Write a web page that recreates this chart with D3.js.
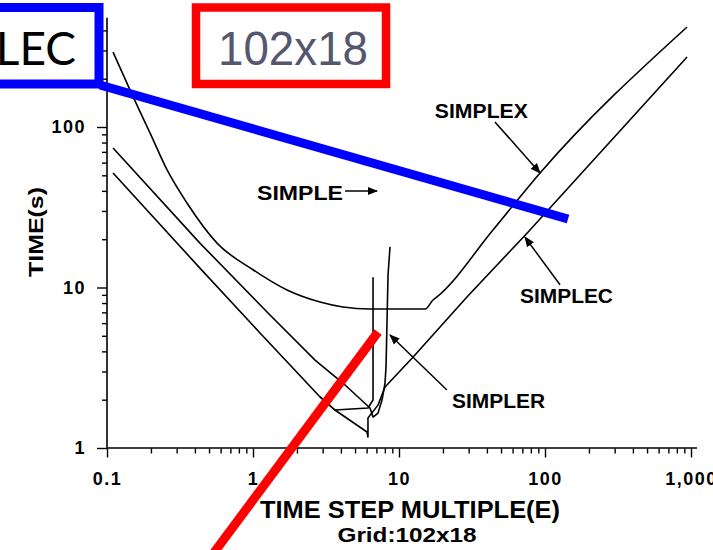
<!DOCTYPE html>
<html lang="en">
<head>
    <meta charset="UTF-8">
    <script src="https://d3js.org/d3.v7.min.js"></script>
    <style>
        body {
            margin: 0;
            background: #ffffff;
        }

        .curve {
            fill: none;
            stroke: #000;
            stroke-width: 1.6px;
            stroke-linejoin: round;
        }

        .axis text {
            font-family: "Liberation Sans", Arial, sans-serif;
            font-weight: bold;
            font-size: 18px;
            letter-spacing: 1.5px;
            fill: #000;
        }

        .axis line {
            stroke: #000;
            stroke-width: 1.4px;
        }

        .label {
            font-family: "Liberation Sans", Arial, sans-serif;
            font-weight: bold;
            fill: #000;
        }
    </style>
</head>
<body>
<script>
    // values (E = time step multiple, T = time in s)
    const simplexE = [0.110, 0.151, 0.197, 0.258, 0.353, 0.567, 1.0, 1.71, 2.88, 4.13, 6.33, 12.5, 15.1, 17.1, 18.2, 44.0, 92.5, 940];
    const simplexT = [293, 154, 91.8, 54.0, 33.6, 18.9, 12.9, 9.65, 8.12, 7.56, 7.34, 7.34, 7.34, 8.36, 8.73, 22.8, 51.7, 420];

    const simplerE = [0.110, 0.433, 1.307, 2.66, 4.27, 6.33, 6.64, 7.18, 7.65, 8.02, 8.15, 8.41, 8.68];
    const simplerT = [74.0, 18.9, 6.74, 3.53, 2.47, 1.775, 1.56, 1.65, 1.99, 2.54, 3.20, 11.96, 17.9];

    const simplecE = [0.110, 0.433, 1.117, 2.88, 3.64, 6.04, 6.13, 6.13, 7.18, 8.02, 12.5, 29.2, 75.3, 940];
    const simplecT = [51.7, 13.2, 5.21, 2.08, 1.725, 1.258, 1.171, 1.538, 1.85, 2.40, 3.69, 8.73, 21.8, 273];

    const simpleE = [2.88, 3.64, 6.13, 6.64, 6.64];
    const simpleT = [2.08, 1.725, 1.775, 1.99, 11.6];

    const xTicks = [0.1, 1, 10, 100, 1000];
    const xTickLabels = ["0.1", "1", "10", "100", "1,000"];
    const yTicks = [1, 10, 100];
    const yTickLabels = ["1", "10", "100"];

    // label text, label anchor, leader tail and tip, all in data units
    const labelNames = ["SIMPLEX", "SIMPLE", "SIMPLEC", "SIMPLER"];
    const labelE = [17.6, 1.065, 67.4, 23.1];
    const labelT = [113.8, 35.1, 8.01, 1.775];
    const leaderFromE = [45.4, 4.27, 126.7, 21.3];
    const leaderFromT = [107.5, 39.9, 10.4, 2.30];
    const leaderToE = [92.5, 7.07, 72.9, 8.68];
    const leaderToT = [51.7, 39.9, 20.6, 5.06];
    const labelWidths = [93, 86, 93, 93];

    const width = 713;
    const height = 550;

    const x = d3.scaleLog().domain([0.1, 1000]).range([107, 691]);
    const y = d3.scaleLog().domain([1, 1000]).range([448, -33.5]);

    const svg = d3.select('body').append('svg')
        .attr('width', width)
        .attr('height', height);

    svg.append('rect').attr('width', width).attr('height', height).attr('fill', '#fff');

    svg.append('defs').append('marker')
        .attr('id', 'head')
        .attr('viewBox', '0 0 10 10')
        .attr('refX', 9).attr('refY', 5)
        .attr('markerWidth', 7).attr('markerHeight', 7)
        .attr('orient', 'auto')
        .append('path')
        .attr('d', 'M0,1 L10,5 L0,9 z')
        .attr('fill', '#000');

    // axes
    const xMinor = [];
    [0.1, 1, 10, 100].forEach(d => d3.range(2, 10).forEach(k => xMinor.push(d * k)));
    const yMinor = [];
    [1, 10, 100].forEach(d => d3.range(2, 10).forEach(k => { if (d * k < 480) yMinor.push(d * k); }));

    const xAxis = svg.append('g').attr('class', 'axis').attr('transform', 'translate(0,448.5)');
    xAxis.call(d3.axisBottom(x).tickValues(xMinor).tickSize(5).tickFormat(''));
    xAxis.call(g => g.select('.domain').remove());
    const xAxisMajor = svg.append('g').attr('class', 'axis').attr('transform', 'translate(0,448.5)')
        .call(d3.axisBottom(x).tickValues(xTicks).tickSize(9).tickPadding(15)
            .tickFormat((d, i) => xTickLabels[i]));
    xAxisMajor.select('.domain').remove();

    const yAxis = svg.append('g').attr('class', 'axis').attr('transform', 'translate(107,0)');
    yAxis.call(d3.axisLeft(y).tickValues(yMinor).tickSize(5).tickFormat(''));
    yAxis.call(g => g.select('.domain').remove());
    const yAxisMajor = svg.append('g').attr('class', 'axis').attr('transform', 'translate(107,0)')
        .call(d3.axisLeft(y).tickValues(yTicks).tickSize(10).tickPadding(11)
            .tickFormat((d, i) => yTickLabels[i]));
    yAxisMajor.select('.domain').remove();

    svg.append('line')
        .attr('x1', x(0.1)).attr('x2', x(1100))
        .attr('y1', y(1)).attr('y2', y(1))
        .attr('stroke', '#000').attr('stroke-width', 1.6);
    svg.append('line')
        .attr('x1', x(0.1)).attr('x2', x(0.1))
        .attr('y1', y(1)).attr('y2', y(480))
        .attr('stroke', '#000').attr('stroke-width', 1.6);

    // axis titles
    svg.append('text').attr('class', 'label')
        .attr('x', 410).attr('y', 518)
        .attr('text-anchor', 'middle')
        .attr('font-size', 24)
        .attr('textLength', 300).attr('lengthAdjust', 'spacingAndGlyphs')
        .text('TIME STEP MULTIPLE(E)');
    svg.append('text').attr('class', 'label')
        .attr('x', 407).attr('y', 542)
        .attr('text-anchor', 'middle')
        .attr('font-size', 20)
        .attr('textLength', 139).attr('lengthAdjust', 'spacingAndGlyphs')
        .text('Grid:102x18');
    svg.append('text').attr('class', 'label')
        .attr('transform', 'translate(43,232) rotate(-90)')
        .attr('text-anchor', 'middle')
        .attr('font-size', 20)
        .attr('textLength', 90).attr('lengthAdjust', 'spacingAndGlyphs')
        .text('TIME(s)');

    // curves
    const straight = d3.line().x(d => x(d[0])).y(d => y(d[1]));
    const smooth = d3.line().x(d => x(d[0])).y(d => y(d[1])).curve(d3.curveMonotoneX);
    const series = [
        {name: 'SIMPLEX', e: simplexE, t: simplexT, w: 1.3, gen: smooth},
        {name: 'SIMPLER', e: simplerE, t: simplerT, w: 1.8, gen: straight},
        {name: 'SIMPLEC', e: simplecE, t: simplecT, w: 1.8, gen: straight},
        {name: 'SIMPLE', e: simpleE, t: simpleT, w: 1.8, gen: straight}
    ];
    svg.selectAll('.curve')
        .data(series)
        .enter().append('path')
        .attr('class', 'curve')
        .attr('stroke-width', d => d.w)
        .attr('d', d => d.gen(d.e.map((e, i) => [e, d.t[i]])));

    // labels with leaders
    labelNames.forEach((name, i) => {
        svg.append('text').attr('class', 'label')
            .attr('x', x(labelE[i])).attr('y', y(labelT[i]))
            .attr('font-size', 21)
            .attr('textLength', labelWidths[i]).attr('lengthAdjust', 'spacingAndGlyphs')
            .text(name);
        svg.append('line')
            .attr('x1', x(leaderFromE[i])).attr('y1', y(leaderFromT[i]))
            .attr('x2', x(leaderToE[i])).attr('y2', y(leaderToT[i]))
            .attr('stroke', '#000').attr('stroke-width', 1.5)
            .attr('marker-end', 'url(#head)');
    });

    // overlay markup drawn on top of the scanned figure
    const overlay = svg.append('g');
    overlay.append('rect')
        .attr('x', -20).attr('y', 7.5).attr('width', 119).attr('height', 76.5)
        .attr('fill', '#fff').attr('stroke', '#0000ff').attr('stroke-width', 9);
    overlay.append('text')
        .attr('x', 76).attr('y', 65)
        .attr('text-anchor', 'end')
        .attr('font-family', 'Lato, "Open Sans", sans-serif')
        .attr('font-size', 46)
        .attr('fill', '#000')
        .text('LEC');
    overlay.append('rect')
        .attr('x', 196).attr('y', 7.5).attr('width', 190).attr('height', 76.5)
        .attr('fill', '#fff').attr('stroke', '#ff0000').attr('stroke-width', 8.5);
    overlay.append('text')
        .attr('x', 293).attr('y', 65)
        .attr('text-anchor', 'middle')
        .attr('font-family', '"Liberation Sans", Arial, sans-serif')
        .attr('font-size', 49)
        .attr('fill', '#56566f')
        .attr('textLength', 150).attr('lengthAdjust', 'spacingAndGlyphs')
        .text('102x18');
    overlay.append('line')
        .attr('x1', 100).attr('y1', 85).attr('x2', 568).attr('y2', 219)
        .attr('stroke', '#0000ff').attr('stroke-width', 9);
    overlay.append('line')
        .attr('x1', 378).attr('y1', 332).attr('x2', 207).attr('y2', 562)
        .attr('stroke', '#ff0000').attr('stroke-width', 9);
</script>
</body>
</html>
